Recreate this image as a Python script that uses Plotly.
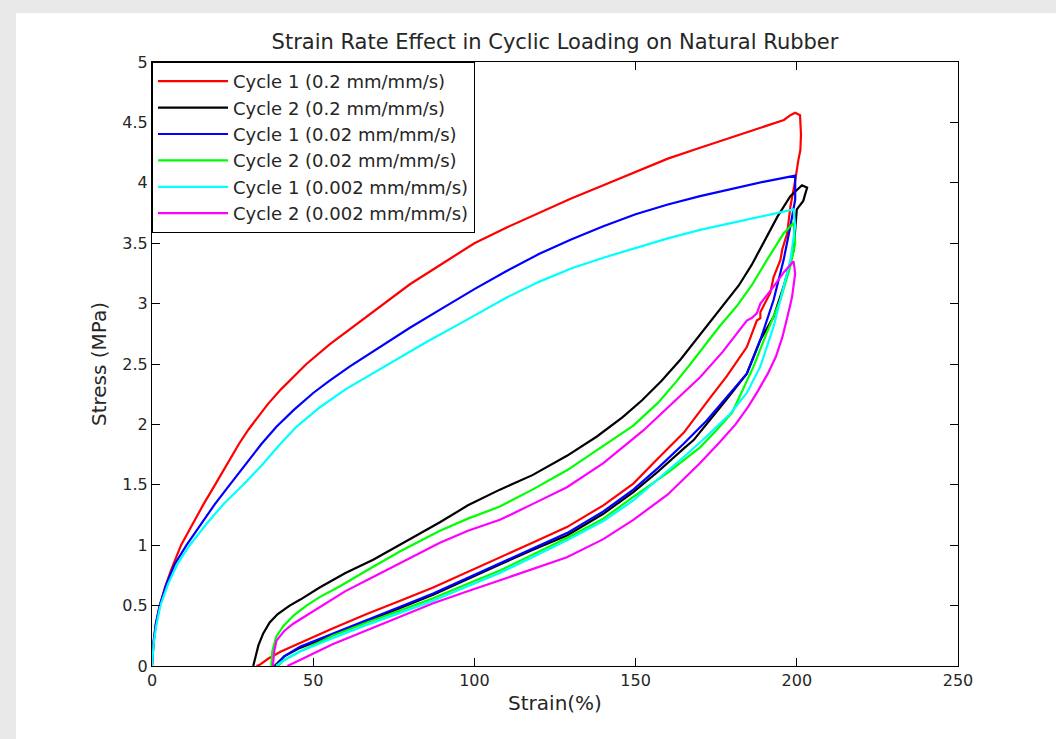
import plotly.graph_objects as go

# ---- data (strain %, stress MPa) ----
names = [
    "Cycle 1 (0.2 mm/mm/s)",
    "Cycle 2 (0.2 mm/mm/s)",
    "Cycle 1 (0.02 mm/mm/s)",
    "Cycle 2 (0.02 mm/mm/s)",
    "Cycle 1 (0.002 mm/mm/s)",
    "Cycle 2 (0.002 mm/mm/s)",
]
colors = ["#ff0000", "#000000", "#0000ff", "#00ff00", "#00ffff", "#ff00ff"]

red_x = [0, 0.5, 1.2, 2.4, 4, 6, 9, 12, 16, 20, 24, 27, 30, 33, 36, 40, 44, 47.9, 55, 62, 70, 80, 90,
         100, 110, 120, 130, 140, 150, 160, 170, 180, 190, 196, 198, 199.5, 201, 201.3, 201.1,
         200.5, 199.5, 198, 197, 195.5, 194.9, 192.8, 191.8, 188.7, 188.7, 187.6, 184.5, 181.4, 178.3,
         173.1, 168, 164.9, 157, 149.3, 140, 128.7, 118, 107.9, 97, 87.2, 77, 66.6, 56, 45.9, 40, 36,
         33.4, 32.4]
red_y = [0, 0.2, 0.35, 0.5, 0.65, 0.8, 1.0, 1.15, 1.34, 1.52, 1.71, 1.84, 1.96, 2.07, 2.17, 2.29,
         2.4, 2.5, 2.66, 2.8, 2.96, 3.16, 3.33, 3.5, 3.63, 3.75, 3.87, 3.98, 4.09, 4.2, 4.29, 4.38,
         4.47, 4.52, 4.56, 4.58, 4.56, 4.4, 4.27, 4.19, 4.02, 3.80, 3.58, 3.45, 3.36, 3.22, 3.09,
         2.93, 2.88, 2.86, 2.64, 2.52, 2.40, 2.22, 2.04, 1.93, 1.72, 1.51, 1.33, 1.15, 1.02, 0.90,
         0.77, 0.65, 0.54, 0.43, 0.31, 0.19, 0.12, 0.06, 0.01, 0]

black_x = [31.4, 32, 33, 34.5, 36.5, 39, 42.7, 46, 52, 60, 68.6, 78, 89.3, 98, 107.9, 118, 128.7,
           138, 146, 152, 158, 164, 170, 176, 182, 186, 190.7, 194, 198, 201.6, 203.2, 202, 200,
           199, 195.9, 192.8, 188.7, 184.5, 178, 172, 168, 164.9, 157, 149.3, 140, 128.7, 118, 107.9,
           97, 87.2, 77, 66.6, 56, 45.9, 41, 38]
black_y = [0, 0.07, 0.17, 0.27, 0.36, 0.43, 0.5, 0.55, 0.65, 0.77, 0.88, 1.02, 1.19, 1.33, 1.46,
           1.58, 1.74, 1.9, 2.06, 2.2, 2.36, 2.54, 2.74, 2.94, 3.15, 3.32, 3.55, 3.72, 3.89, 3.98,
           3.96, 3.85, 3.78, 3.44, 3.14, 2.89, 2.70, 2.42, 2.2, 2.0, 1.87, 1.8, 1.61, 1.44, 1.26,
           1.08, 0.96, 0.84, 0.71, 0.59, 0.48, 0.37, 0.26, 0.15, 0.08, 0]

blue_x = [0, 0.5, 1.2, 2.4, 4.5, 7, 10.7, 15, 19.5, 24.1, 29, 34, 38.6, 44, 50, 55, 61.4, 70, 80, 90,
          100, 110, 120, 130, 140, 150, 160, 170, 180, 190, 199.5, 199.5, 198, 195.9, 192.8, 188.7,
          184.5, 178.3, 172, 164.9, 157, 149.3, 140, 128.7, 118, 107.9, 97, 87.2, 77, 66.6, 56, 45.9,
          41, 38.6]
blue_y = [0, 0.2, 0.35, 0.5, 0.68, 0.84, 1.0, 1.17, 1.34, 1.5, 1.67, 1.84, 1.98, 2.12, 2.26, 2.36,
          2.48, 2.63, 2.8, 2.96, 3.12, 3.27, 3.41, 3.53, 3.64, 3.74, 3.82, 3.89, 3.95, 4.01, 4.06,
          3.86, 3.64, 3.36, 3.03, 2.70, 2.42, 2.23, 2.03, 1.84, 1.64, 1.46, 1.28, 1.10, 0.97, 0.85,
          0.72, 0.60, 0.49, 0.38, 0.27, 0.16, 0.08, 0]

green_x = [37, 37.3, 38.5, 40.7, 44, 47.9, 52, 58.3, 66.6, 77, 89.3, 98, 107.9, 118, 128.7, 138,
           149.3, 157, 162.8, 167, 171, 176, 181.4, 186, 190.7, 195.9, 199, 199.5, 198, 194.9, 190.7,
           186.6, 180, 175, 170, 160, 149.3, 140, 128.7, 118, 107.9, 97, 87.2, 77, 66.6, 56, 45.9,
           41, 39]
green_y = [0, 0.12, 0.24, 0.33, 0.42, 0.5, 0.57, 0.66, 0.79, 0.95, 1.12, 1.22, 1.32, 1.46, 1.62,
           1.79, 1.99, 2.18, 2.36, 2.5, 2.64, 2.81, 2.98, 3.15, 3.36, 3.58, 3.67, 3.5, 3.31, 3.03,
           2.76, 2.48, 2.1, 1.95, 1.81, 1.6, 1.40, 1.22, 1.06, 0.92, 0.79, 0.67, 0.56, 0.46, 0.36,
           0.25, 0.12, 0.05, 0]

cyan_x = [0, 0.5, 1.3, 2.6, 5, 8, 11.7, 17, 22.5, 28.3, 34, 39.5, 44.8, 52, 60, 67, 73.8, 85, 98.6,
          110, 120, 130, 140, 150, 160, 170, 180, 190, 198, 199, 199.5, 198, 195.9, 192.8, 188.7,
          184.5, 179.4, 172, 164.9, 157, 149.3, 140, 128.7, 118, 107.9, 97, 87.2, 77, 66.6, 56, 45.9,
          41, 38.5]
cyan_y = [0, 0.18, 0.33, 0.5, 0.68, 0.85, 1.0, 1.18, 1.35, 1.5, 1.66, 1.83, 1.98, 2.14, 2.29, 2.4,
          2.5, 2.68, 2.88, 3.05, 3.18, 3.29, 3.38, 3.46, 3.54, 3.61, 3.67, 3.73, 3.78, 3.78, 3.64,
          3.36, 3.14, 2.81, 2.48, 2.26, 2.09, 1.9, 1.73, 1.55, 1.37, 1.2, 1.04, 0.9, 0.77, 0.65, 0.54,
          0.44, 0.34, 0.23, 0.12, 0.05, 0]

magenta_x = [37.5, 37.9, 38.6, 41, 43.8, 48, 54.1, 60, 66.6, 77, 89.3, 98, 107.9, 118, 128.7, 140,
             149.3, 152.4, 160, 170, 177, 184.5, 186, 187.6, 188.7, 192.8, 196, 199, 199.5, 198.5,
             197, 195.5, 193.5, 191, 188, 185, 181, 176, 170, 160, 149.3, 140, 128.7, 118, 107.9, 97,
             87.2, 77, 66.6, 56, 45.9, 42]
magenta_y = [0, 0.12, 0.21, 0.29, 0.35, 0.42, 0.52, 0.62, 0.71, 0.85, 1.02, 1.12, 1.21, 1.34, 1.48,
             1.68, 1.88, 1.95, 2.14, 2.39, 2.6, 2.86, 2.88, 2.92, 3.0, 3.14, 3.26, 3.35, 3.25, 3.05,
             2.88, 2.72, 2.56, 2.42, 2.28, 2.15, 2.0, 1.85, 1.68, 1.42, 1.21, 1.05, 0.90, 0.80, 0.71,
             0.61, 0.52, 0.41, 0.30, 0.18, 0.05, 0]

xs = [red_x, black_x, blue_x, green_x, cyan_x, magenta_x]
ys = [red_y, black_y, blue_y, green_y, cyan_y, magenta_y]

x_ticks = [0, 50, 100, 150, 200, 250]
y_ticks = [0, 0.5, 1, 1.5, 2, 2.5, 3, 3.5, 4, 4.5, 5]

FONT = "DejaVu Sans"
TXT = "#262626"

fig = go.Figure()
for name, c, x, y in zip(names, colors, xs, ys):
    fig.add_trace(go.Scatter(x=x, y=y, mode="lines", name=name,
                             line=dict(color=c, width=2.2)))

axis_common = dict(
    showline=True, linecolor="#000000", linewidth=1, mirror="ticks",
    ticks="inside", ticklen=8, tickwidth=1, tickcolor="#000000",
    showgrid=False, zeroline=False,
    tickfont=dict(family=FONT, size=16, color=TXT),
)

fig.update_layout(
    width=1056, height=739, autosize=False,
    margin=dict(l=152, r=98, t=62, b=73),
    paper_bgcolor="#e9e9e9", plot_bgcolor="#ffffff",
    title=dict(text="Strain Rate Effect in Cyclic Loading on Natural Rubber",
               x=0.5, xref="paper", xanchor="center",
               y=1 - 42 / 739, yref="container", yanchor="middle",
               font=dict(family=FONT, size=21, color=TXT)),
    xaxis=dict(range=[0, 250], tickvals=x_ticks, ticktext=[str(v) for v in x_ticks],
               title=dict(text="Strain(%)", font=dict(family=FONT, size=20, color=TXT), standoff=6),
               **axis_common),
    yaxis=dict(range=[0, 5], tickvals=y_ticks, ticktext=[f"{v:g}" for v in y_ticks],
               title=dict(text="Stress (MPa)", font=dict(family=FONT, size=20, color=TXT), standoff=10),
               **axis_common),
    legend=dict(x=0, y=1, xanchor="left", yanchor="top", bgcolor="#ffffff",
                bordercolor="#000000", borderwidth=1,
                font=dict(family=FONT, size=18, color=TXT), itemwidth=70),
    showlegend=True,
    shapes=[dict(type="rect", xref="paper", yref="paper",
                 x0=(16 - 152) / 806, x1=(1060 - 152) / 806,
                 y0=-(739 - 666 + 5) / 604, y1=(666 - 13) / 604,
                 fillcolor="#ffffff", line=dict(width=0), layer="below")],
)

fig.write_html("out.html")
